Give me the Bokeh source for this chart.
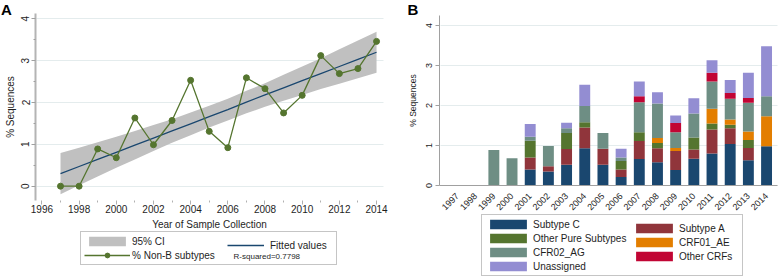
import math
from bokeh.plotting import figure
from bokeh.models import Range1d, FixedTicker, Legend, LegendItem, Label, ColumnDataSource
from bokeh.layouts import row
from bokeh.embed import file_html
from bokeh.resources import INLINE

# ---------------- data ----------------
years = list(range(1997, 2015))

# Panel A
pct_nonb = [0.00, 0.00, 0.89, 0.68, 1.63, 0.99, 1.57, 2.53, 1.31, 0.92,
            2.59, 2.33, 1.75, 2.17, 3.12, 2.69, 2.81, 3.46]
fitted = [0.30, 0.47, 0.64, 0.81, 0.98, 1.15, 1.32, 1.49, 1.66, 1.83,
          2.01, 2.18, 2.35, 2.52, 2.69, 2.86, 3.03, 3.20]
ci_lower = [-0.19, 0.02, 0.23, 0.44, 0.64, 0.84, 1.04, 1.22, 1.40, 1.57,
            1.74, 1.90, 2.04, 2.18, 2.32, 2.45, 2.58, 2.71]
ci_upper = [0.79, 0.92, 1.05, 1.18, 1.32, 1.46, 1.60, 1.76, 1.92, 2.09,
            2.28, 2.46, 2.66, 2.86, 3.06, 3.27, 3.48, 3.69]
r_squared_note = "R-squared=0.7798"
x_ticks_a = [1996, 1998, 2000, 2002, 2004, 2006, 2008, 2010, 2012, 2014]
y_ticks = [0, 1, 2, 3, 4]

# Panel B (stack order bottom -> top)
subtype_c = [0, 0, 0, 0, 0.40, 0.35, 0.52, 0.93, 0.52, 0.21, 0.66, 0.58, 0.39, 0.67, 0.80, 1.04, 0.63, 0.98]
subtype_a = [0, 0, 0, 0, 0.30, 0.13, 0.39, 0.52, 0.40, 0.19, 0.45, 0.35, 0.47, 0.23, 0.60, 0.39, 0.31, 0.00]
other_pure = [0, 0, 0, 0, 0.42, 0.00, 0.40, 0.13, 0.00, 0.21, 0.22, 0.13, 0.00, 0.30, 0.15, 0.09, 0.20, 0.00]
crf01_ae = [0, 0, 0, 0, 0, 0, 0, 0, 0, 0, 0, 0.13, 0.08, 0.00, 0.37, 0.13, 0.21, 0.75]
cfr02_ag = [0, 0, 0.89, 0.68, 0.10, 0.51, 0.12, 0.41, 0.39, 0.09, 0.75, 0.86, 0.39, 0.60, 0.68, 0.52, 0.72, 0.50]
other_crfs = [0, 0, 0, 0, 0, 0, 0, 0, 0, 0, 0.15, 0, 0.23, 0, 0.22, 0.14, 0.12, 0]
unassigned = [0, 0, 0, 0, 0.32, 0, 0.14, 0.53, 0, 0.22, 0.37, 0.28, 0.19, 0.38, 0.31, 0.33, 0.63, 1.25]

categories = ["Subtype C", "Subtype A", "Other Pure Subtypes", "CRF01_AE",
              "CFR02_AG", "Other CRFs", "Unassigned"]
series_b = [subtype_c, subtype_a, other_pure, crf01_ae, cfr02_ag, other_crfs, unassigned]
colors_b = ["#1a476f", "#90353b", "#55752f", "#e37e00", "#6e8e84", "#c10534", "#938dd2"]

FONT = "Liberation Sans"
TEXT = "#1e1e1e"
GRID = "#e4eced"
BAND = "#c0c0c0"
FIT = "#1a476f"
GREEN = "#55752f"

# view windows (each frame covers its whole canvas; axes sit at fixed locations)
A_X = (1993.772, 2014.751)
A_PLOT_X = (1995.655, 2014.375)
A_Y = (-2.182, 4.437)
A_PLOT_Y = (-0.342, 4.127)
B_X = (1993.315, 2014.987)
B_PLOT_X = (1996.01, 2014.6)
B_Y = (-2.3, 4.625)
B_PLOT_Y = (0, 4.25)


def panel_letter(p, x, y, text):
    p.add_layout(Label(x=x, y=y, text=text, text_font=FONT, text_font_size="15px",
                       text_font_style="bold", text_color="black",
                       text_baseline="top", text_align="left"))


def style_legend(lg, border, label_w):
    lg.orientation = "vertical"
    lg.glyph_width = 46
    lg.glyph_height = 12
    lg.label_height = 12
    lg.label_width = label_w
    lg.label_standoff = 2
    lg.spacing = 2
    lg.padding = 3
    lg.margin = 0
    lg.label_text_font = FONT
    lg.label_text_font_size = "10px"
    lg.label_text_color = TEXT
    lg.background_fill_alpha = 0
    if border:
        lg.border_line_color = "#8c8c8c"
        lg.border_line_width = 1
    else:
        lg.border_line_color = None


def style_axis_text(ax, tick_size, label_size):
    ax.major_label_text_font = FONT
    ax.major_label_text_font_size = tick_size
    ax.major_label_text_color = TEXT
    ax.axis_label_text_font = FONT
    ax.axis_label_text_font_size = label_size
    ax.axis_label_text_font_style = "normal"
    ax.axis_label_text_color = TEXT


def set_cross_bounds(grid, bounds):
    try:
        grid.cross_bounds = bounds
    except AttributeError:
        pass


# ---------------- Panel A ----------------
pA = figure(width=390, height=277, output_backend="svg", toolbar_location=None,
            x_range=Range1d(*A_X), y_range=Range1d(*A_Y),
            min_border_left=0, min_border_right=0, min_border_top=0, min_border_bottom=0)
pA.outline_line_color = None

band = pA.varea(x=years, y1=ci_lower, y2=ci_upper, fill_color=BAND)
fit_r = pA.line(years, fitted, line_color=FIT, line_width=1.3)
nb_line = pA.line(years, pct_nonb, line_color=GREEN, line_width=1.3)
nb_pts = pA.scatter(years, pct_nonb, size=6, fill_color=GREEN, line_color=GREEN)
dummy_a = pA.scatter([2000], [1], size=1, fill_alpha=0, line_alpha=0)

xa = pA.xaxis[0]
xa.fixed_location = A_PLOT_Y[0]
xa.bounds = A_PLOT_X
xa.ticker = FixedTicker(ticks=x_ticks_a, minor_ticks=[y for y in years if y % 2 == 1])
xa.axis_label = "Year of Sample Collection"
xa.axis_line_color = None
xa.major_tick_line_color = "#b0b0b0"
xa.minor_tick_line_color = "#b0b0b0"
xa.major_tick_out = 4
xa.major_tick_in = 0
xa.minor_tick_out = 2
xa.minor_tick_in = 0
xa.major_label_standoff = 1
xa.axis_label_standoff = 2
style_axis_text(xa, "10px", "10px")

ya = pA.yaxis[0]
ya.fixed_location = A_PLOT_X[0]
ya.bounds = A_PLOT_Y
ya.ticker = FixedTicker(ticks=y_ticks, minor_ticks=[0.5, 1.5, 2.5, 3.5])
ya.axis_label = "% Sequences"
ya.axis_line_color = "#b4b4b4"
ya.axis_line_width = 2
ya.major_tick_line_color = "#a0a0a0"
ya.minor_tick_line_color = "#a0a0a0"
ya.major_tick_out = 4
ya.major_tick_in = 0
ya.minor_tick_out = 2
ya.minor_tick_in = 0
ya.major_label_orientation = "vertical"
ya.major_label_standoff = 2
ya.axis_label_standoff = 3
style_axis_text(ya, "10px", "10px")

pA.xgrid.grid_line_color = None
gA = pA.ygrid[0]
gA.ticker = FixedTicker(ticks=y_ticks)
gA.grid_line_color = GRID
set_cross_bounds(gA, (A_PLOT_X[0] + 0.05, A_PLOT_X[1]))

legA1 = Legend(items=[LegendItem(label="95% CI", renderers=[band]),
                      LegendItem(label="% Non-B subtypes", renderers=[nb_line, nb_pts])],
               location=(80, 12))
style_legend(legA1, True, 201)
legA2 = Legend(items=[LegendItem(label="Fitted values", renderers=[fit_r]),
                      LegendItem(label=" ", renderers=[dummy_a])],
               location=(227, 12))
style_legend(legA2, False, 20)
legA2.glyph_width = 37
legA2.label_standoff = 6
pA.add_layout(legA1)
pA.add_layout(legA2)
pA.add_layout(Label(x=2006.31, y=-1.68, text=r_squared_note, text_font=FONT,
                    text_font_size="8px", text_color=TEXT, text_baseline="middle"))
panel_letter(pA, A_X[0] + 0.03, A_Y[1], "A")

# ---------------- Panel B ----------------
pB = figure(width=394, height=277, output_backend="svg", toolbar_location=None,
            x_range=Range1d(*B_X), y_range=Range1d(*B_Y),
            min_border_left=0, min_border_right=0, min_border_top=0, min_border_bottom=0)
pB.outline_line_color = None

keys = ["s%d" % i for i in range(len(categories))]
data = {"year": years}
for k, s in zip(keys, series_b):
    data[k] = s
src = ColumnDataSource(data)
bars = pB.vbar_stack(stackers=keys, x="year", width=0.6, fill_color=colors_b,
                     line_color=None, source=src)
dummy_b = pB.scatter([2000], [1], size=1, fill_alpha=0, line_alpha=0)

xb = pB.xaxis[0]
xb.fixed_location = 0
xb.bounds = B_PLOT_X
xb.ticker = FixedTicker(ticks=years)
xb.major_label_orientation = math.pi / 4
xb.major_tick_line_color = None
xb.minor_tick_line_color = None
xb.axis_line_color = "#a0a0a0"
xb.major_label_standoff = 3
style_axis_text(xb, "9px", "9px")

yb = pB.yaxis[0]
yb.fixed_location = B_PLOT_X[0]
yb.bounds = B_PLOT_Y
yb.ticker = FixedTicker(ticks=y_ticks)
yb.axis_label = "% Sequences"
yb.axis_line_color = "#a0a0a0"
yb.major_tick_line_color = "#a0a0a0"
yb.minor_tick_line_color = None
yb.major_tick_out = 4
yb.major_tick_in = 0
yb.major_label_orientation = "vertical"
yb.major_label_standoff = 3
yb.axis_label_standoff = 6
style_axis_text(yb, "9px", "8.5px")

pB.xgrid.grid_line_color = None
gB = pB.ygrid[0]
gB.ticker = FixedTicker(ticks=y_ticks)
gB.grid_line_color = GRID
set_cross_bounds(gB, (B_PLOT_X[0] + 0.05, B_PLOT_X[1]))

legB1 = Legend(items=[LegendItem(label=categories[i], renderers=[bars[i]]) for i in (0, 2, 4, 6)],
               location=(91, 1))
style_legend(legB1, True, 206)
legB2 = Legend(items=[LegendItem(label=categories[i], renderers=[bars[i]]) for i in (1, 3, 5)]
               + [LegendItem(label=" ", renderers=[dummy_b])],
               location=(241, 1))
style_legend(legB2, False, 20)
pB.add_layout(legB1)
pB.add_layout(legB2)
panel_letter(pB, 1994.25, B_Y[1], "B")

layout = row(pA, pB)
open("out.html", "w").write(file_html(layout, INLINE))
